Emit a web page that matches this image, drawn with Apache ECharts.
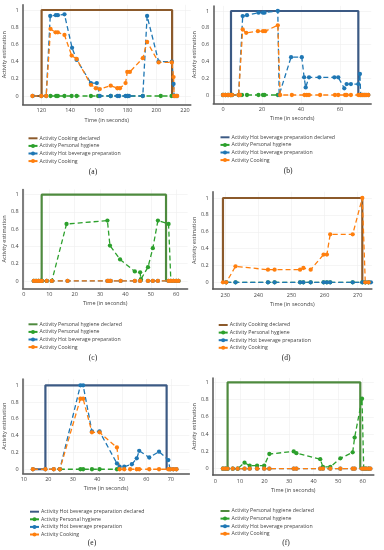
<!DOCTYPE html>
<html><head><meta charset="utf-8">
<script src="https://cdn.jsdelivr.net/npm/echarts@6/dist/echarts.min.js"></script>
<style>html,body{margin:0;padding:0;background:#fff}#c{width:384px;height:550px}</style>
</head><body><div id="c"></div><script>
// ---------- data (time in seconds, activity estimation) ----------
const NAME_HYG = 'Activity Personal hygiene';
const NAME_HOT = 'Activity Hot beverage preparation';
const NAME_COOK = 'Activity Cooking';
const declaredNames = ['Activity Cooking declared','Activity Hot beverage preparation declared','Activity Personal hygiene declared','Activity Cooking declared','Activity Hot beverage preparation declared','Activity Personal hygiene declared'];
const captions = ['(a)','(b)','(c)','(d)','(e)','(f)'];
const yTicks = [0,0.2,0.4,0.6,0.8,1];
const xTicksA = [120,140,160,180,200,220];
const xTicksB = [0,20,40,60];
const xTicksC = [0,10,20,30,40,50,60];
const xTicksD = [230,240,250,260,270];
const xTicksE = [10,20,30,40,50,60,70];
const xTicksF = [0,10,20,30,40,50,60];

// (a)
const aDeclared = [[114,0],[120.2,0],[120.2,1],[211,1],[211,0],[214,0]];
const aHygiene = [[126.4,0],[130.3,0],[131.5,0],[136.1,0],[141.1,0],[144.6,0],[154.5,0],[159.5,0],[168.3,0],[180,0],[190.6,0],[203.1,0],[210.6,0]];
const aHotBev = [[114,0],[120,0],[123.4,0],[126.2,0.93],[130.1,0.94],[131.5,0.94],[136.1,0.95],[141.4,0.56],[144.6,0.42],[154.5,0.15],[158.6,0.15],[160.7,0],[168.3,0],[172.9,0],[174.2,0],[178.6,0],[179.8,0],[181,0],[190.6,0],[193.6,0.93],[201.6,0.4],[210.8,0.4],[212,0.14],[212.4,0],[214.3,0]];
const aCooking = [[113.8,0],[120,0],[123.4,0],[126.4,0.78],[129.9,0.74],[131.5,0.74],[136.1,0.71],[141.1,0.47],[144.6,0.43],[154.5,0.13],[157.9,0.09],[160.7,0.08],[168.3,0.12],[172.9,0.09],[174.7,0.09],[178.6,0.15],[179.8,0.28],[181.6,0.28],[190.6,0.44],[193.6,0.63],[201.6,0.39],[210.8,0.39],[212,0.22],[212.4,0],[213.5,0],[214.5,0]];
// (b)
const bDeclared = [[-1,0],[4.1,0],[4.1,1],[69.4,1],[69.4,0],[74,0]];
const bHygiene = [[0,0],[1.2,0],[2.6,0],[3.8,0],[4.6,0],[8,0],[9.7,0],[12.3,0],[18.2,0],[20.5,0],[21.3,0],[28.1,0]];
const bHotBev = [[0,0],[1.2,0],[2.6,0],[3.8,0],[4.6,0],[8,0],[8.7,0],[10.1,0.94],[12.3,0.95],[18.2,0.98],[20.5,0.98],[21.3,0.98],[28.1,1.0],[28.8,0],[34.9,0.45],[40.4,0.45],[41.6,0.21],[42.4,0.09],[44.1,0.21],[49.4,0.21],[57.1,0.21],[59.1,0.21],[62.2,0.08],[63.4,0.13],[65.6,0.13],[69.4,0.13],[70.2,0.25],[70.6,0],[71.5,0],[72.8,0],[74.5,0]];
const bCooking = [[0,0],[1.2,0],[2.6,0],[3.8,0],[4.6,0],[8,0],[8.7,0],[10.1,0.78],[11.9,0.74],[17.9,0.76],[20.5,0.76],[21.6,0.76],[28.1,0.83],[29.3,0],[35.3,0],[41.8,0],[43,0],[44.1,0],[49.8,0],[57.4,0],[59.1,0],[62.6,0],[63.4,0],[65.6,0],[69.4,0],[70.2,0],[71.1,0],[72,0],[72.8,0],[73.6,0],[74.5,0]];
// (c)
const cDeclared = [[4,0],[7,0],[7,1],[56,1],[56,0],[61,0]];
const cHygiene = [[3.9,0],[4.8,0],[5.7,0],[6.5,0],[7.1,0],[9,0],[11,0],[16.8,0.66],[32.9,0.7],[33.9,0.41],[37.9,0.25],[43.7,0.11],[45.8,0.1],[46.1,0.02],[48.9,0.16],[50.8,0.38],[52.8,0.7],[57,0.66],[57.9,0],[58.9,0],[60,0],[60.9,0]];
const cHotBev = [[3.9,0],[4.8,0],[5.7,0],[6.5,0],[7.1,0],[9,0],[11,0],[17.2,0],[32.9,0],[33.5,0],[34.2,0],[38.1,0],[43.7,0],[45.8,0],[48.9,0],[50.8,0],[52.8,0],[57,0],[57.9,0],[58.9,0],[60,0],[60.9,0]];
const cCooking = [[3.9,0],[4.8,0],[5.7,0],[6.5,0],[7.1,0],[9,0],[11,0],[17.2,0],[32.9,0],[33.5,0],[34.2,0],[38.1,0],[43.7,0],[45.8,0],[48.9,0],[50.8,0],[52.8,0],[57,0],[57.9,0],[58.9,0],[60,0],[60.9,0]];
// (d)
const dDeclared = [[229.3,0],[229.3,1],[271.4,1],[271.4,0],[273,0]];
const dHygiene = [[230.3,0],[233.1,0],[242.9,0],[244.9,0],[252.6,0],[253.6,0],[255.8,0],[259.7,0],[260.7,0],[261.7,0],[268.5,0],[271.4,0],[272.3,0],[273.3,0]];
const dHotBev = [[230.3,0],[233.1,0],[242.9,0],[244.9,0],[252.6,0],[253.6,0],[255.8,0],[259.7,0],[260.7,0],[261.7,0],[268.5,0],[271.4,0],[272.3,0],[273.3,0],[274,0]];
const dCooking = [[229.3,0],[230.3,0],[233.1,0.19],[242.9,0.15],[244.9,0.15],[252.6,0.15],[253.6,0.17],[255.8,0.15],[259.7,0.33],[260.7,0.33],[261.7,0.57],[268.5,0.57],[271.4,1.0],[272.3,0],[273.3,0]];
// (e)
const eDeclared = [[13.7,0],[18.8,0],[18.8,1],[68.3,1],[68.3,0],[72,0]];
const eHygiene = [[24.7,0],[33.1,0],[34.2,0],[37.8,0],[40.9,0],[48,0]];
const eHotBev = [[13.7,0],[18.8,0],[22.2,0],[24.7,0],[33.1,1.0],[34.2,1.0],[37.8,0.45],[40.9,0.45],[48,0.07],[49.1,0.03],[51,0.03],[54.1,0.06],[56.1,0.13],[57.1,0.22],[61.2,0.14],[65.2,0.21],[69,0.11],[69.7,0],[71,0],[72.3,0]];
const eCooking = [[13.7,0],[18.8,0],[22.2,0],[24.7,0],[33.1,0.84],[34.2,0.84],[37.8,0.44],[40.9,0.44],[48,0.26],[49.1,0],[51,0],[53.4,0],[56.1,0],[57.1,0],[61.2,0],[65.2,0],[69,0],[69.7,0],[71,0],[72.3,0]];
// (f)
const fDeclared = [[3,0],[5,0],[5,1],[59,1],[59,0],[62,0]];
const fHygiene = [[3.1,0],[4.1,0],[5,0],[7.1,0],[9.1,0],[11.9,0.07],[14,0.035],[17,0.035],[19.9,0.035],[22,0.17],[31.9,0.2],[33,0.18],[42.7,0.11],[43.8,0.02],[46.8,0.02],[50.9,0.12],[55.9,0.19],[56.7,0.36],[59.7,0.81],[60.4,0],[61.3,0],[62.4,0]];
const fHotBev = [[3.1,0],[4.1,0],[5,0],[7.1,0],[9.1,0],[11.9,0],[14,0],[17,0],[19.9,0],[22,0],[31.9,0],[33,0],[42.7,0],[43.8,0],[46.8,0],[50.9,0],[55.9,0],[56.7,0],[59.7,0],[60.4,0],[61.3,0],[62.4,0],[63.1,0]];
const fCooking = [[3.1,0],[4.1,0],[5,0],[7.1,0],[9.1,0],[11.9,0],[14,0],[17,0],[19.9,0],[22,0],[31.9,0],[33,0],[42.7,0],[43.8,0],[46.8,0],[50.9,0],[55.9,0],[56.7,0],[59.7,0],[60.4,0],[61.3,0],[62.4,0],[63.1,0]];

const panelData = [
  [aDeclared,aHygiene,aHotBev,aCooking,xTicksA],
  [bDeclared,bHygiene,bHotBev,bCooking,xTicksB],
  [cDeclared,cHygiene,cHotBev,cCooking,xTicksC],
  [dDeclared,dHygiene,dHotBev,dCooking,xTicksD],
  [eDeclared,eHygiene,eHotBev,eCooking,xTicksE],
  [fDeclared,fHygiene,fHotBev,fCooking,xTicksF]
];

// ---------- layout / style ----------
const layout = [
  {left:21.15,top:4.84,width:169.65,height:99.76,xmin:107,xmax:224,ymin:-0.1,ymax:1.06,lgL:22.5,lgT:130.3,capX:93,capY:171.7},
  {left:213.25,top:5.96,width:157.95,height:97.44,xmin:-5,xmax:76,ymin:-0.1,ymax:1.06,lgL:214.5,lgT:129.3,capX:288,capY:170.7},
  {left:19.7,top:189.5,width:167.9,height:98.8,xmin:-0.5,xmax:64.5,ymin:-0.085,ymax:1.06,lgL:22.5,lgT:316.3,capX:93,capY:358},
  {left:212.7,top:191.7,width:159.2,height:97.4,xmin:226.2,xmax:274.3,ymin:-0.08,ymax:1.075,lgL:212.7,lgT:317,capX:286,capY:358},
  {left:22.1,top:379,width:167.3,height:94.3,xmin:9.5,xmax:77.6,ymin:-0.048,ymax:1.075,lgL:24,lgT:503.7,capX:92,capY:543},
  {left:212.7,top:378,width:161.1,height:97,xmin:-1.06,xmax:64.5,ymin:-0.073,ymax:1.05,lgL:214.5,lgT:503,capX:286,capY:543}
];
const declaredColors = ['#8c5a2b','#3c5a84','#4e8a3e','#8c5a2b','#3c5a84','#4e8a3e'];
const C_HYG = '#2ca02c', C_HOT = '#1f77b4', C_COOK = '#ff7f0e';
const FONT = 'Open Sans';
const textCol = '#444';

const grid=[], xAxis=[], yAxis=[], series=[], legend=[], graphic=[];
layout.forEach((L,i)=>{
  const [dec,hyg,hot,cook,xt] = panelData[i];
  grid.push({left:L.left,top:L.top,width:L.width,height:L.height,containLabel:false});
  xAxis.push({type:'value',gridIndex:i,min:L.xmin,max:L.xmax,
    name:'Time (in seconds)',nameLocation:'middle',nameGap:12.5,
    nameTextStyle:{fontSize:5.5,color:textCol,fontFamily:FONT},
    axisLine:{onZero:false,lineStyle:{color:'#555',width:1.5}},
    axisTick:{show:false,customValues:xt},
    axisLabel:{customValues:xt,fontSize:5.5,color:textCol,margin:3,fontFamily:FONT},
    splitLine:{show:true,lineStyle:{color:'#eeeeee',width:0.6}}});
  yAxis.push({type:'value',gridIndex:i,min:L.ymin,max:L.ymax,
    name:'Activity estimation',nameLocation:'middle',nameGap:11,
    nameTextStyle:{fontSize:5.5,color:textCol,fontFamily:FONT},
    axisLine:{show:true,onZero:false,lineStyle:{color:'#555',width:1.5}},
    axisTick:{show:false,customValues:yTicks},
    axisLabel:{customValues:yTicks,fontSize:5.5,color:textCol,margin:4,fontFamily:FONT},
    splitLine:{show:true,lineStyle:{color:'#eeeeee',width:0.6}}});
  series.push({type:'line',name:declaredNames[i],xAxisIndex:i,yAxisIndex:i,data:dec,symbol:'none',
    lineStyle:{color:declaredColors[i],width:2.2},itemStyle:{color:declaredColors[i]},animation:false,z:2});
  const mk=(name,data,col)=>({type:'line',name,xAxisIndex:i,yAxisIndex:i,data,symbol:'circle',symbolSize:4.3,
    lineStyle:{color:col,width:1.3,type:[5,3]},itemStyle:{color:col},animation:false,z:3});
  series.push(mk(NAME_HYG,hyg,C_HYG));
  series.push(mk(NAME_HOT,hot,C_HOT));
  series.push(mk(NAME_COOK,cook,C_COOK));
  legend.push({orient:'vertical',left:L.lgL,top:L.lgT,itemWidth:9,itemHeight:5,itemGap:1.6,selectedMode:false,
    textStyle:{fontSize:5.2,color:textCol,fontFamily:FONT,lineHeight:6,padding:[0,0,0,-3]},
    data:[{name:declaredNames[i],icon:'path://M0,0h10v2.2h-10z',symbolKeepAspect:true},
      {name:NAME_HYG,lineStyle:{type:'solid'}},{name:NAME_HOT,lineStyle:{type:'solid'}},{name:NAME_COOK,lineStyle:{type:'solid'}}]});
  graphic.push({type:'text',x:L.capX,y:L.capY,style:{text:captions[i],align:'center',verticalAlign:'middle',
    font:'7.5px "Liberation Serif"',fill:'#222'}});
});

const chart = echarts.init(document.getElementById('c'));
chart.setOption({backgroundColor:'#fff',animation:false,grid,xAxis,yAxis,series,legend,graphic});
</script></body></html>
